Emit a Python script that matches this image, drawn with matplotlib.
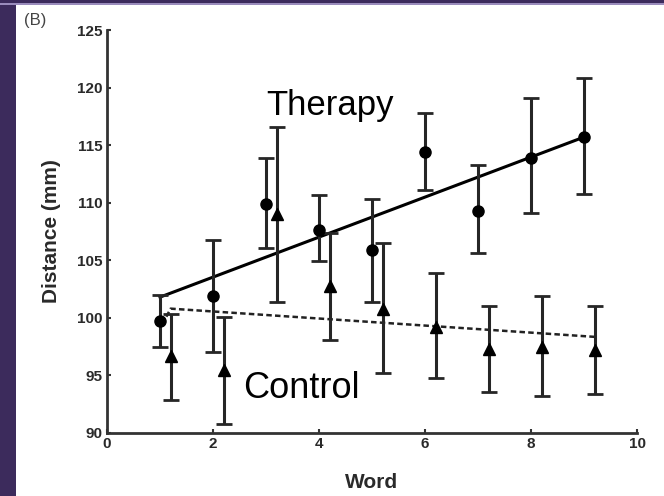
import numpy as np
import matplotlib.pyplot as plt
from matplotlib.patches import Rectangle

plt.rcParams['font.family'] = ['Liberation Sans', 'DejaVu Sans']

# mean distance per word with error bar limits
therapy_word = [1, 2, 3, 4, 5, 6, 7, 8, 9]
therapy_mean = [99.7, 101.9, 109.9, 107.6, 105.9, 114.4, 109.3, 113.9, 115.7]
therapy_hi = [102.0, 106.8, 113.9, 110.7, 110.3, 117.8, 113.3, 119.1, 120.8]
therapy_lo = [97.5, 97.0, 106.1, 104.9, 101.4, 111.1, 105.6, 109.1, 110.8]

control_word = [1.2, 2.2, 3.2, 4.2, 5.2, 6.2, 7.2, 8.2, 9.2]
control_mean = [96.7, 95.5, 109.0, 102.8, 100.8, 99.2, 97.3, 97.5, 97.2]
control_hi = [100.3, 100.1, 116.6, 107.4, 106.5, 103.9, 101.0, 101.9, 101.0]
control_lo = [92.9, 90.8, 101.4, 98.1, 95.2, 94.8, 93.6, 93.2, 93.4]

# fitted trend lines (the control fit starts with a short hook)
therapy_fit_x = [1, 9]
therapy_fit_y = [101.8, 115.7]
control_fit_x = [1.12, 1.2, 9.2]
control_fit_y = [100.1, 100.8, 98.35]

fig = plt.figure(figsize=(6.64, 4.96), dpi=100)
fig.patch.set_facecolor('#3c2b5c')
fig.add_artist(Rectangle((0, 1 - 5 / 496), 1, 2 / 496, transform=fig.transFigure,
                         facecolor='#9a8cbc', edgecolor='none', zorder=-10))
fig.add_artist(Rectangle((16 / 664, 0), 1, 1 - 5 / 496, transform=fig.transFigure,
                         facecolor='white', edgecolor='none', zorder=-10))

ax = fig.add_axes([107 / 664, 63 / 496, 530 / 664, 403 / 496])
ax.set_facecolor('none')

def err(mean, lo, hi):
    m = np.array(mean)
    return [m - np.array(lo), np.array(hi) - m]

ax.errorbar(therapy_word, therapy_mean, yerr=err(therapy_mean, therapy_lo, therapy_hi),
            fmt='o', color='black', ecolor='#262626', ms=8, elinewidth=2.2,
            capsize=5.5, capthick=2, zorder=3)
ax.errorbar(control_word, control_mean, yerr=err(control_mean, control_lo, control_hi),
            fmt='^', color='black', ecolor='#262626', ms=8.5, elinewidth=2.2,
            capsize=5.5, capthick=2, zorder=3)

ax.plot(therapy_fit_x, therapy_fit_y, color='black', lw=2.2, zorder=2)
ax.plot(control_fit_x, control_fit_y, color='#222222', lw=1.8, ls=(0, (2.2, 1.3)), zorder=2)

ax.text(3.0, 117.6, 'Therapy', fontsize=25, ha='left', va='baseline')
ax.text(2.56, 93.07, 'Control', fontsize=26, ha='left', va='baseline')

ax.set_xlim(0, 10)
ax.set_ylim(90, 125)
ax.set_xticks([0, 2, 4, 6, 8, 10])
ax.set_yticks([90, 95, 100, 105, 110, 115, 120, 125])

for s in ['top', 'right']:
    ax.spines[s].set_visible(False)
for s in ['left', 'bottom']:
    ax.spines[s].set_linewidth(2)
    ax.spines[s].set_color('#333333')

ax.tick_params(direction='in', length=3, width=1.5, color='#333333',
               labelsize=11, labelcolor='#2a2a2a', pad=3)
for lab in ax.get_xticklabels() + ax.get_yticklabels():
    lab.set_fontweight('bold')

ax.set_xlabel('Word', fontsize=15, fontweight='bold', color='#2a2a2a', labelpad=16)
ax.set_ylabel('Distance (mm)', fontsize=15, fontweight='bold', color='#2a2a2a', labelpad=12)

fig.text(24 / 664, 1 - 21 / 496, '(B)', fontsize=12, color='#444444', va='center')

fig.savefig('out.png', dpi=100, facecolor=fig.get_facecolor())
